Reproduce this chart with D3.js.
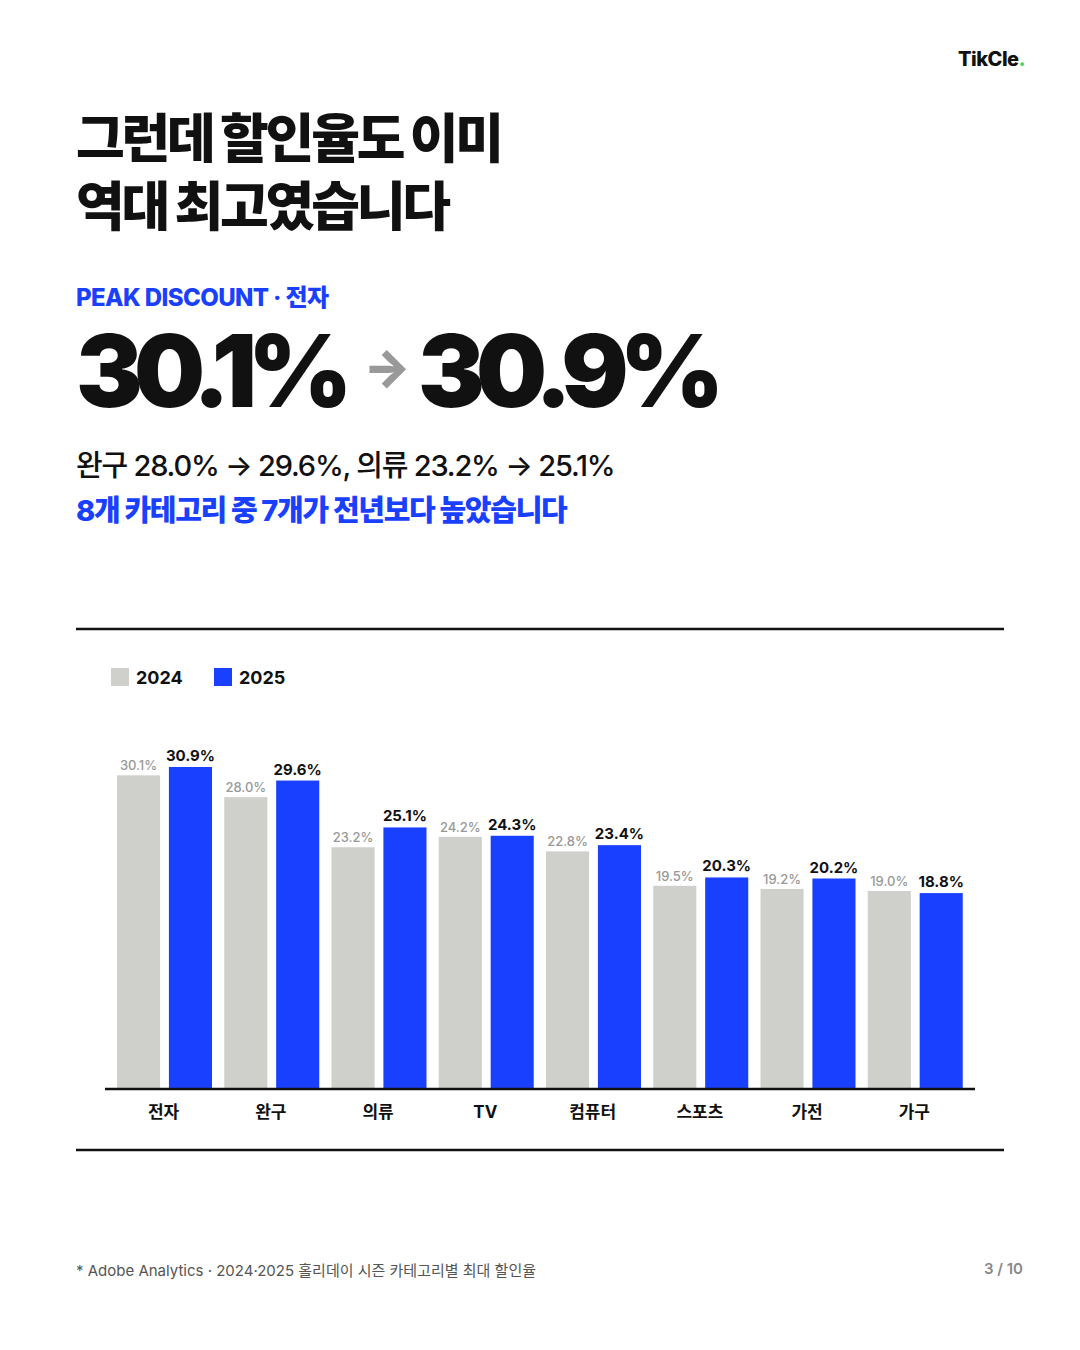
<!DOCTYPE html>
<html><head><meta charset="utf-8">
<script src="https://cdn.jsdelivr.net/npm/d3@7"></script>
<style>
body{margin:0;background:#fff;}
svg text{font-family:Inter,"Noto Sans CJK KR",sans-serif;}
</style></head>
<body>
<svg id="c" width="1080" height="1350"></svg>
<script>
const categories = ["전자","완구","의류","TV","컴퓨터","스포츠","가전","가구"];
const values2024 = [30.1,28.0,23.2,24.2,22.8,19.5,19.2,19.0];
const values2025 = [30.9,29.6,25.1,24.3,23.4,20.3,20.2,18.8];
const years = ["2024","2025"];
const colors = ["#cfcfcb","#1a40ff"];

const svg = d3.select("#c");
const kr = 'Inter,"Noto Sans CJK KR",sans-serif';

svg.append("text").attr("x",958).attr("y",66).attr("font-size",20).attr("font-weight",800)
  .attr("letter-spacing",-0.5).attr("fill","#111").text("TikCle")
  .append("tspan").attr("fill","#3ddc6b").text(".");

const title = ["그런데 할인율도 이미","역대 최고였습니다"];
title.forEach((t,i)=>svg.append("text").attr("x",76).attr("y",158+i*68)
  .attr("font-size",53).attr("font-weight",900).attr("letter-spacing",-3.2).attr("fill","#111").text(t));

svg.append("text").attr("x",76).attr("y",306).attr("font-size",24).attr("font-weight",800)
  .attr("letter-spacing",-0.6).attr("fill","#1a40ff").text("PEAK DISCOUNT · 전자");

const big = svg.append("text").attr("x",76).attr("y",407).attr("font-size",100).attr("font-weight",900)
  .attr("letter-spacing",-9).attr("fill","#111");
big.append("tspan").text("30.1%");
big.append("tspan").attr("fill","#999").attr("font-size",50).attr("dx",20).attr("dy",-22).text("→");
big.append("tspan").attr("dx",16).attr("dy",22).text("30.9%");

svg.append("text").attr("x",76).attr("y",476).attr("font-size",29).attr("font-weight",500)
  .attr("letter-spacing",-1.2).attr("fill","#111").text("완구 28.0% → 29.6%, 의류 23.2% → 25.1%");
svg.append("text").attr("x",76).attr("y",521).attr("font-size",29).attr("font-weight",800)
  .attr("letter-spacing",-1.3).attr("fill","#1a40ff").text("8개 카테고리 중 7개가 전년보다 높았습니다");

svg.append("line").attr("x1",76).attr("x2",1004).attr("y1",629).attr("y2",629).attr("stroke","#111").attr("stroke-width",2.5);
svg.append("line").attr("x1",76).attr("x2",1004).attr("y1",1150).attr("y2",1150).attr("stroke","#111").attr("stroke-width",2.5);

// legend
years.forEach((y,i)=>{
  const g = svg.append("g").attr("transform",`translate(${111+i*103},668)`);
  g.append("rect").attr("width",18).attr("height",18).attr("fill",colors[i]);
  g.append("text").attr("x",25).attr("y",16).attr("font-size",18).attr("font-weight",700).attr("fill","#111").text(y);
});

const x = d3.scaleBand().domain(categories).range([110,968]);
const xi = d3.scaleBand().domain(years).range([7, 102]).paddingInner(0.17);
const y = d3.scaleLinear().domain([0,30.9]).range([1089,767]);

const g = svg.append("g");
categories.forEach((c,i)=>{
  const vals = [values2024[i], values2025[i]];
  years.forEach((yr,j)=>{
    const bx = x(c)+xi(yr);
    g.append("rect").attr("x",bx).attr("y",y(vals[j])).attr("width",xi.bandwidth())
      .attr("height",y(0)-y(vals[j])).attr("fill",colors[j]);
    g.append("text").attr("x",bx+xi.bandwidth()/2).attr("y",y(vals[j])-(j?6:5))
      .attr("text-anchor","middle").attr("font-size",j?15:13).attr("font-weight",j?700:500)
      .attr("fill",j?"#111":"#999").text(vals[j].toFixed(1)+"%");
  });
});

const axis = svg.append("g").attr("transform","translate(0,1089)")
  .call(d3.axisBottom(x).tickSize(0).tickPadding(17));
axis.select(".domain").attr("d","M105,0H975").attr("stroke","#111").attr("stroke-width",2.5);
axis.selectAll("text").attr("font-size",17).attr("font-weight",700).attr("fill","#111").attr("font-family",kr);

svg.append("text").attr("x",76).attr("y",1276).attr("font-size",15).attr("fill","#555")
  .text("* Adobe Analytics · 2024·2025 홀리데이 시즌 카테고리별 최대 할인율");
svg.append("text").attr("x",1023).attr("y",1274).attr("text-anchor","end").attr("font-size",15)
  .attr("font-weight",600).attr("fill","#888").text("3 / 10");
</script>
</body></html>
